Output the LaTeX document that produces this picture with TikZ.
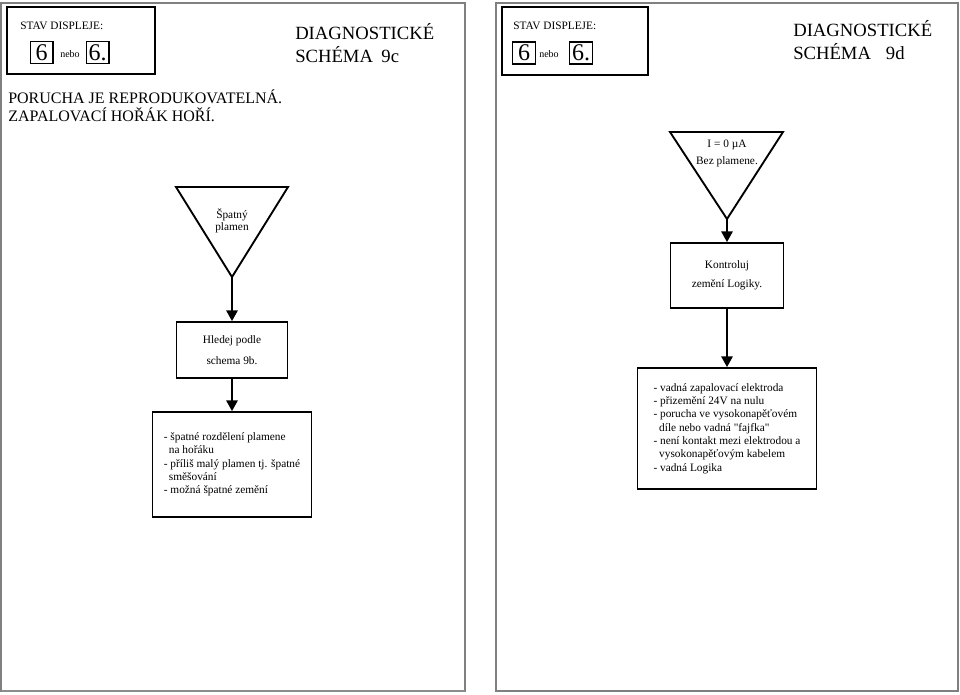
\documentclass[tikz,border=0pt]{standalone}
\usepackage{fontspec}
\setmainfont{Liberation Serif}
\usetikzlibrary{arrows.meta}

\tikzset{
  frame/.style={draw=black!50, line width=0.9pt},
  display/.style={draw, line width=1.8pt},
  digit/.style={draw, line width=1pt, inner sep=0pt, minimum width=17pt, minimum height=16.5pt, font=\fontsize{18}{18}\selectfont},
  stepbox/.style={draw, line width=1.4pt, inner sep=0pt},
  small/.style={font=\fontsize{8.5}{10}\selectfont},
  title/.style={anchor=base west, align=left, inner sep=0pt, font=\fontsize{14}{16.8}\selectfont},
  flow/.style={line width=1.4pt, -{Triangle[length=8pt,width=8.5pt]}},
  triangle/.style={line width=1.4pt, line join=miter},
}

\begin{document}
\begin{tikzpicture}[x=0.75pt, y=-0.75pt]
    \useasboundingbox (0,0) rectangle (960,694);

    % schema 9c
    \begin{scope}
        \draw[frame] (1,3) rectangle (465,691);
        \draw[black!45, line width=1.8pt] (1,691) -- (465,691);

        % stav displeje
        \draw[display] (7,7) rectangle (155,74);
        \node[small, anchor=base west, inner sep=0pt] (stavA) at (20,29) {STAV DISPLEJE:};
        \node[digit] (sixA) at (41.5,52.5) {6};
        \node[font=\fontsize{7.5}{9}\selectfont] (neboA) at (70,54) {nebo};
        \node[digit] (sixdotA) at (97.5,52.5) {6.};

        % base = posledni radek
        \node[title] (titleA) at (295,62) {DIAGNOSTICKÉ\\SCHÉMA\hspace{0.45em}9c};
        \node[anchor=base west, align=left, inner sep=0pt, font=\fontsize{12}{13.5}\selectfont] (popisA) at (8,121)
            {PORUCHA JE REPRODUKOVATELNÁ.\\ZAPALOVACÍ HOŘÁK HOŘÍ.};

        % spatny plamen
        \coordinate (triA) at (232,277);
        \draw[triangle] (176,187) -- (288,187) -- (triA) -- cycle;
        \node[small, align=center, font=\fontsize{8.5}{9.3}\selectfont] (spatny) at (232,221) {Špatný\\plamen};

        \node[stepbox, small, align=center, minimum width=83.25pt, minimum height=42pt,
              font=\fontsize{8.5}{15.75}\selectfont] (hledej) at (232,350) {Hledej podle\\schema 9b.};
        \node[stepbox, small, align=left, minimum width=119.25pt, minimum height=78.75pt] (poruchyA) at (232,464.5)
            {- špatné rozdělení plamene\\\hspace{0.45em}na hořáku\\- příliš malý plamen tj. špatné\\\hspace{0.45em}směšování\\- možná špatné zemění};

        \draw[flow] (triA) -- (hledej);
        \draw[flow] (hledej) -- (poruchyA);
    \end{scope}

    % schema 9d
    \begin{scope}
        \draw[frame] (496,3) rectangle (958,691);

        % stav displeje
        \draw[display] (502,7) rectangle (648,75);
        \node[small, anchor=base west, inner sep=0pt] (stavB) at (513,29) {STAV DISPLEJE:};
        \node[digit] (sixB) at (524,53) {6};
        \node[font=\fontsize{7.5}{9}\selectfont] (neboB) at (549,54) {nebo};
        \node[digit] (sixdotB) at (581,53) {6.};

        \node[title] (titleB) at (793,59) {DIAGNOSTICKÉ\\SCHÉMA\hspace{0.8em}9d};

        % bez plamene
        \coordinate (triB) at (727,219);
        \draw[triangle] (670,132) -- (783,132) -- (triB) -- cycle;
        \node[small, align=center, font=\fontsize{8.5}{12.75}\selectfont] (proud) at (727,153)
            {I = 0 µA\\Bez plamene.};

        \node[stepbox, small, align=center, minimum width=84.75pt, minimum height=48.75pt,
              font=\fontsize{8.5}{14.5}\selectfont] (kontrola) at (727,275.5) {Kontroluj\\zemění Logiky.};
        \node[stepbox, small, align=left, minimum width=134.25pt, minimum height=90.75pt] (poruchyB) at (727,428.5)
            {- vadná zapalovací elektroda\\- přizemění 24V na nulu\\- porucha ve vysokonapěťovém\\\hspace{0.5em}díle nebo vadná \textquotedbl fajfka\textquotedbl\\- není kontakt mezi elektrodou a\\\hspace{0.5em}vysokonapěťovým kabelem\\- vadná Logika};

        \draw[flow] (triB) -- (kontrola);
        \draw[flow] (kontrola) -- (poruchyB);
    \end{scope}
\end{tikzpicture}
\end{document}
